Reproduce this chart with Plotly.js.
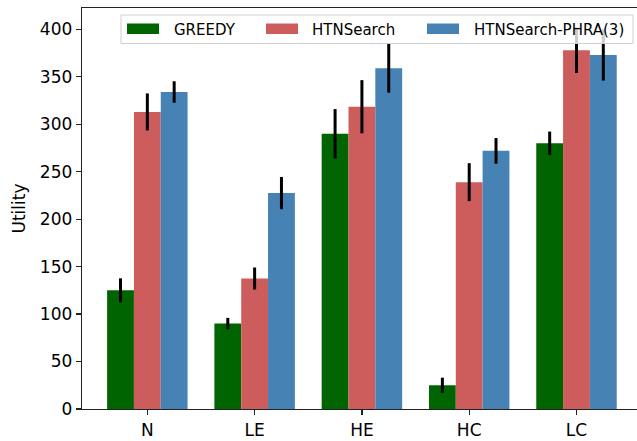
<!DOCTYPE html>
<html><head><meta charset="utf-8">
<script src="https://cdn.plot.ly/plotly-3.0.1.min.js"></script>
<style>html,body{margin:0;padding:0;background:#fff}#chart{width:637px;height:441px}</style>
</head><body><div id="chart"></div>
<script>
// ---- data ----
const categories = ['N', 'LE', 'HE', 'HC', 'LC'];
const seriesNames = ['GREEDY', 'HTNSearch', 'HTNSearch-PHRA(3)'];
const greedyValues = [125, 90, 290, 25, 280];
const greedyErrors = [12.7, 6, 26, 8, 12.3];
const htnValues = [313, 137.5, 318.5, 239, 378];
const htnErrors = [19.5, 11.6, 28, 20, 24];
const phraValues = [334, 227.5, 359, 272, 373];
const phraErrors = [11.3, 17, 25.7, 13.5, 27];
const yTickValues = [0, 50, 100, 150, 200, 250, 300, 350, 400];
const yTitle = 'Utility';

// ---- styling ----
const colors = ['#006400', '#CD5C5C', '#4682B4'];
const FONT = 'DejaVu Sans, sans-serif';
const W = 637, H = 441;
const M = {l: 82, r: 0, t: 8, b: 32};
const plotW = W - M.l - M.r, plotH = H - M.t - M.b;
const px2x = p => (p - M.l) / plotW;
const px2y = p => (H - M.b - p) / plotH;

const valueSets = [greedyValues, htnValues, phraValues];
const errorSets = [greedyErrors, htnErrors, phraErrors];

const traces = seriesNames.map((name, i) => ({
  type: 'bar',
  name: name,
  x: categories,
  y: valueSets[i],
  marker: {color: colors[i], line: {width: 0}},
  error_y: {type: 'data', array: errorSets[i], visible: true, color: '#000', thickness: 3, width: 0},
  showlegend: false,
  hoverinfo: 'skip'
}));

// custom matplotlib-like legend
const legendBox = {x0: 121, x1: 633, y0: 15, y1: 43.5};
const handleX = [127, 266, 427];
const handleW = 32;
const textX = [172, 310, 472];
const shapes = [{
  type: 'rect', xref: 'paper', yref: 'paper', layer: 'above',
  x0: px2x(legendBox.x0), x1: px2x(legendBox.x1), y0: px2y(legendBox.y1), y1: px2y(legendBox.y0),
  fillcolor: 'rgba(255,255,255,0.8)', line: {color: '#d0d0d0', width: 1}
}];
const annotations = [];
seriesNames.forEach((name, i) => {
  shapes.push({
    type: 'rect', xref: 'paper', yref: 'paper', layer: 'above',
    x0: px2x(handleX[i]), x1: px2x(handleX[i] + handleW), y0: px2y(34), y1: px2y(23.5),
    fillcolor: colors[i], line: {width: 0}
  });
  annotations.push({
    xref: 'paper', yref: 'paper', x: px2x(textX[i]), y: px2y(29.5),
    xanchor: 'left', yanchor: 'middle', showarrow: false, text: name,
    font: {family: FONT, size: 15, color: '#000'}
  });
});

const layout = {
  width: W, height: H,
  margin: M,
  paper_bgcolor: '#fff', plot_bgcolor: '#fff',
  barmode: 'group', bargap: 0.25, bargroupgap: 0,
  showlegend: false,
  font: {family: FONT, size: 17, color: '#000'},
  xaxis: {
    type: 'category', range: [-0.609, 4.564],
    showline: true, mirror: true, linecolor: '#222', linewidth: 1.3,
    ticks: 'outside', ticklen: 5, tickwidth: 1.2, tickcolor: '#222',
    showgrid: false, zeroline: false,
    tickfont: {family: FONT, size: 17, color: '#000'}
  },
  yaxis: {
    range: [0, 422.5], tickvals: yTickValues,
    showline: true, linecolor: '#222', linewidth: 1.3,
    ticks: 'outside', ticklen: 5, tickwidth: 1.2, tickcolor: '#222',
    showgrid: false, zeroline: false,
    tickfont: {family: FONT, size: 17, color: '#000'},
    title: {text: yTitle, font: {family: FONT, size: 17, color: '#000'}, standoff: 10}
  },
  shapes: shapes,
  annotations: annotations
};

Plotly.newPlot('chart', traces, layout, {displayModeBar: false, staticPlot: true});
</script>
</body></html>
